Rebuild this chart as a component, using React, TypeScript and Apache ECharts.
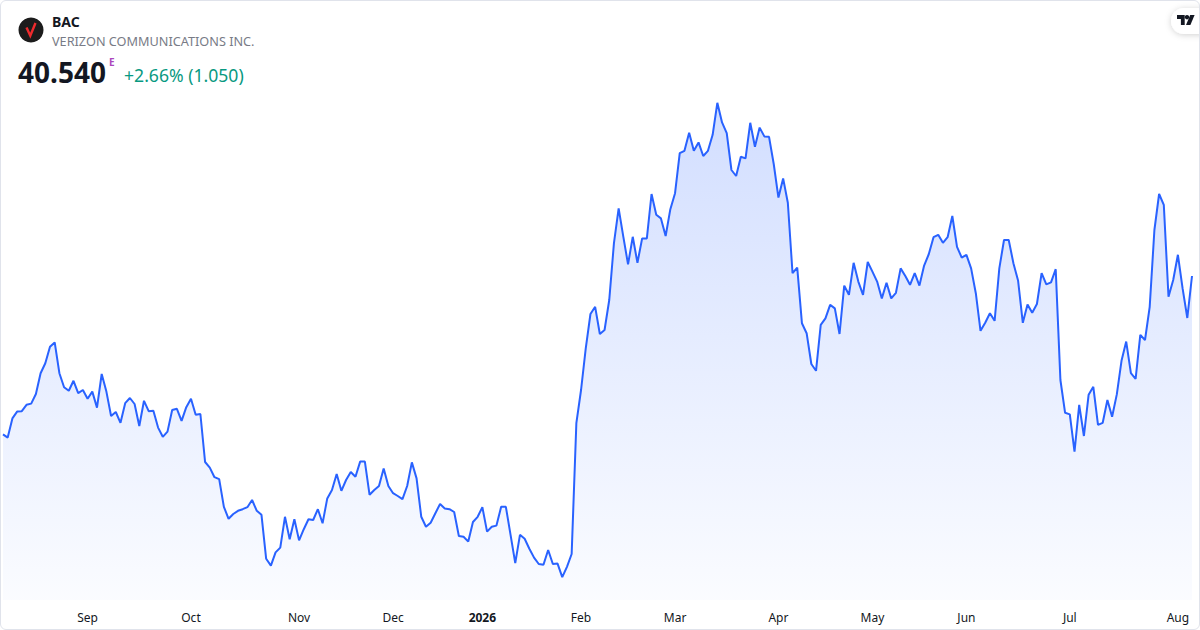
import { useEffect, useRef } from "react";
import * as echarts from "echarts";

// daily closes, Aug 2025 -> Aug 2026
const prices = [
  36.58, 36.5, 36.98, 37.15, 37.16, 37.32, 37.35, 37.59, 38.11, 38.36,
  38.77, 38.88, 38.11, 37.76, 37.67, 37.92, 37.61, 37.69, 37.47, 37.65,
  37.25, 38.09, 37.65, 37.04, 37.14, 36.87, 37.36, 37.49, 37.34, 36.79,
  37.42, 37.16, 37.17, 36.75, 36.52, 36.65, 37.19, 37.22, 36.92, 37.26,
  37.47, 37.07, 37.09, 35.89, 35.75, 35.51, 35.46, 34.77, 34.47, 34.59,
  34.67, 34.71, 34.76, 34.94, 34.67, 34.57, 33.47, 33.3, 33.63, 33.75,
  34.52, 33.96, 34.46, 33.93, 34.21, 34.46, 34.44, 34.71, 34.36, 34.98,
  35.19, 35.59, 35.17, 35.44, 35.64, 35.52, 35.9, 35.9, 35.07, 35.19,
  35.29, 35.73, 35.29, 35.11, 35.04, 34.96, 35.29, 35.88, 35.48, 34.52,
  34.27, 34.37, 34.61, 34.84, 34.73, 34.71, 34.64, 34.04, 34.02, 33.9,
  34.39, 34.52, 34.76, 34.15, 34.27, 34.3, 34.77, 34.77, 34.07, 33.36,
  34.07, 33.97, 33.72, 33.5, 33.34, 33.32, 33.69, 33.34, 33.35, 33.01,
  33.27, 33.59, 36.86, 37.69, 38.73, 39.59, 39.77, 39.09, 39.19, 39.94,
  41.36, 42.23, 41.52, 40.83, 41.52, 40.87, 41.48, 41.48, 42.59, 42.07,
  41.98, 41.54, 42.21, 42.61, 43.61, 43.67, 44.12, 43.67, 43.88, 43.54,
  43.67, 44.07, 44.87, 44.38, 44.11, 43.19, 43.04, 43.52, 43.48, 44.37,
  43.77, 44.25, 44.03, 44.02, 43.34, 42.5, 42.98, 42.37, 40.61, 40.75,
  39.36, 39.11, 38.34, 38.17, 39.32, 39.48, 39.82, 39.73, 39.09, 40.3,
  40.07, 40.87, 40.4, 40.07, 40.89, 40.65, 40.4, 39.98, 40.37, 39.98,
  40.12, 40.73, 40.54, 40.32, 40.61, 40.3, 40.8, 41.09, 41.51, 41.57,
  41.37, 41.51, 42.04, 41.27, 41.0, 41.07, 40.73, 40.11, 39.17, 39.37,
  39.61, 39.42, 40.73, 41.44, 41.44, 40.86, 40.42, 39.37, 39.83, 39.62,
  39.84, 40.61, 40.33, 40.38, 40.71, 37.94, 37.12, 37.08, 36.15, 37.32,
  36.54, 37.57, 37.77, 36.82, 36.87, 37.44, 37.02, 37.58, 38.42, 38.9,
  38.11, 37.97, 39.07, 38.94, 39.77, 41.69, 42.59, 42.32, 40.02, 40.44,
  41.07, 40.23, 39.49, 40.54,
];

// first trading day of each month (index into prices)
const monthTicks = [18, 40, 63, 83, 102, 123, 143, 165, 185, 205, 227, 250];
const monthLabels = ["Sep", "Oct", "Nov", "Dec", "2026", "Feb", "Mar", "Apr", "May", "Jun", "Jul", "Aug"];
const yearLabels = ["2026"];

const FONT = "'Noto Sans', 'Open Sans', sans-serif";

export default function App() {
  const chartRef = useRef<HTMLDivElement>(null);

  useEffect(() => {
    document.body.style.margin = "0";
    if (!chartRef.current) return;
    const chart = echarts.init(chartRef.current, null, { renderer: "svg" });

    const categories = prices.map((_, i) => {
      const k = monthTicks.indexOf(i);
      return k >= 0 ? monthLabels[k] : `d${i}`;
    });

    const last = prices[prices.length - 1];
    const prev = prices[prices.length - 2];
    const change = last - prev;
    const pct = (change / prev) * 100;

    chart.setOption({
      animation: false,
      backgroundColor: "#ffffff",
      textStyle: { fontFamily: FONT },
      grid: { left: 3, right: 8, top: 80, bottom: 30 },
      xAxis: {
        type: "category",
        data: categories,
        boundaryGap: false,
        axisLine: { show: false },
        axisTick: { show: false },
        splitLine: { show: false },
        axisLabel: {
          interval: (i: number) => monthTicks.includes(i),
          formatter: (v: string) => (yearLabels.includes(v) ? `{y|${v}}` : v),
          color: "#131722",
          fontSize: 12,
          fontFamily: FONT,
          margin: 11,
          rich: {
            y: { fontWeight: "bold", color: "#131722", fontSize: 12, fontFamily: FONT },
          },
        },
      },
      yAxis: {
        type: "value",
        min: 32.44,
        max: 45.44,
        show: false,
        splitLine: { show: false },
      },
      series: [
        {
          type: "line",
          data: prices,
          symbol: "none",
          lineStyle: { color: "#2962ff", width: 2 },
          areaStyle: {
            color: new echarts.graphic.LinearGradient(0, 0, 0, 1, [
              { offset: 0, color: "rgba(41,98,255,0.3)" },
              { offset: 1, color: "rgba(41,98,255,0.03)" },
            ]),
          },
        },
      ],
      graphic: [
        // company logo
        { type: "circle", shape: { cx: 31, cy: 30, r: 12.5 }, style: { fill: "#1c1c1c" } },
        {
          type: "polyline",
          shape: { points: [[26.5, 27.5], [30.3, 35.8], [35.5, 23]] },
          style: { stroke: "#ef2b2d", lineWidth: 2.4, fill: "none", lineJoin: "miter" },
        },
        {
          type: "text",
          x: 52,
          y: 21,
          style: { text: "BAC", fontSize: 14, fontWeight: "bold", fill: "#131722", fontFamily: FONT, textVerticalAlign: "middle" },
        },
        {
          type: "text",
          x: 52,
          y: 41,
          style: { text: "VERIZON COMMUNICATIONS INC.", fontSize: 12.7, fill: "#787b86", fontFamily: FONT, textVerticalAlign: "middle" },
        },
        {
          type: "text",
          x: 18,
          y: 72,
          style: { text: last.toFixed(3), fontSize: 28, fontWeight: "bold", fill: "#131722", fontFamily: FONT, textVerticalAlign: "middle" },
        },
        {
          type: "text",
          x: 109,
          y: 62,
          style: { text: "E", fontSize: 10, fontWeight: "bold", fill: "#ab47bc", fontFamily: FONT, textVerticalAlign: "middle" },
        },
        {
          type: "text",
          x: 124,
          y: 75,
          style: {
            text: `+${pct.toFixed(2)}% (${change.toFixed(3)})`,
            fontSize: 17.6,
            fill: "#089981",
            fontFamily: FONT,
            textVerticalAlign: "middle",
          },
        },
        // TradingView badge
        {
          type: "rect",
          shape: { x: 1171, y: 8, width: 44, height: 26, r: 13 },
          style: { fill: "#ffffff", shadowBlur: 6, shadowColor: "rgba(0,0,0,0.18)", shadowOffsetY: 1 },
        },
        {
          type: "polygon",
          shape: { points: [[1177, 15], [1184.7, 15], [1184.7, 25], [1180.9, 25], [1180.9, 18.9], [1177, 18.9]] },
          style: { fill: "#131722" },
        },
        { type: "circle", shape: { cx: 1187, cy: 17.2, r: 2.2 }, style: { fill: "#131722" } },
        {
          type: "polygon",
          shape: { points: [[1190.2, 15], [1194.6, 15], [1190.4, 25], [1186, 25]] },
          style: { fill: "#131722" },
        },
      ],
    });

    return () => chart.dispose();
  }, []);

  return (
    <div style={{ position: "relative", width: 1200, height: 630 }}>
      <div ref={chartRef} style={{ position: "absolute", left: 0, top: 0, width: 1200, height: 630 }} />
      <div
        style={{
          position: "absolute",
          left: 0,
          top: 0,
          width: 1200,
          height: 630,
          boxSizing: "border-box",
          border: "1px solid #e0e3eb",
          borderRadius: 6,
          pointerEvents: "none",
        }}
      />
    </div>
  );
}
